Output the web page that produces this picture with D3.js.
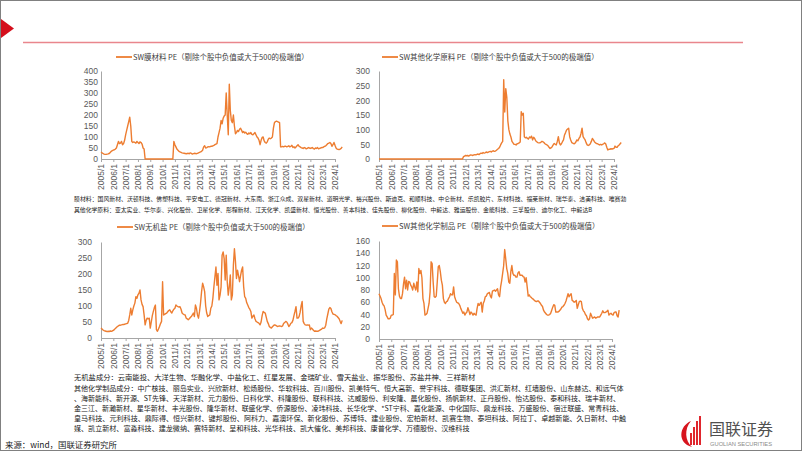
<!DOCTYPE html>
<html><head><meta charset="utf-8">
<script src="https://cdn.jsdelivr.net/npm/d3@7"></script>
<style>body{margin:0;background:#fff}svg{display:block}</style>
</head><body><svg id="c" width="802" height="451"></svg>
<script>
// ---------------- DATA ----------------
const years = d3.range(2005, 2025);
const tickLabels = years.map(y => y + "/1");
// monthly, 2005/1 .. 2024/8
const mocaiPE = [
 32,28,25,22,21,21,22,23,25,30,35,38,
 40,42,45,50,65,80,70,72,80,65,70,85,
 110,130,150,170,190,150,80,75,78,75,72,80,
 75,70,78,75,68,50,45,0,0,0,0,0,
 0,0,0,0,0,0,0,0,0,0,0,0,
 0,0,0,0,0,0,0,0,0,0,0,80,
 65,55,45,40,35,32,30,28,27,26,25,24,
 25,26,24,28,26,22,24,26,25,24,26,28,
 30,32,35,40,55,60,50,52,55,56,55,58,
 58,60,62,65,68,70,100,120,140,175,160,185,
 195,200,300,200,110,340,220,175,165,200,150,115,
 120,130,125,135,140,130,120,125,118,122,115,112,
 118,115,120,112,110,115,120,110,100,95,85,65,
 85,98,100,82,75,72,78,90,95,92,95,100,
 140,165,170,172,170,168,165,55,55,57,55,58,
 58,55,57,60,55,58,62,52,56,50,55,60,
 65,58,55,52,50,48,52,50,46,48,52,50,
 48,50,52,47,45,50,48,52,46,48,50,52,
 52,55,58,60,65,70,72,75,70,58,65,75,
 62,50,45,44,43,45,48,55
];
const otherRawPE = [
 0,0,0,0,0,0,0,0,0,0,0,0,
 0,0,0,0,0,0,0,0,0,0,0,0,
 0,0,0,0,0,0,0,0,0,0,0,0,
 0,0,0,0,0,0,0,0,0,0,0,0,
 0,0,0,0,0,0,0,0,0,0,0,0,
 0,0,0,0,0,0,0,0,0,0,0,0,
 0,0,0,0,0,0,0,0,0,0,8,10,
 12,11,12,10,12,14,13,12,14,15,14,16,
 17,15,18,20,19,22,20,21,24,22,23,25,
 26,24,27,28,26,27,30,33,36,40,48,55,
 60,270,160,240,210,130,100,85,75,60,55,50,
 50,48,52,53,55,58,161,150,156,76,72,74,
 70,68,75,72,78,65,74,70,62,59,56,55,
 55,57,60,59,56,52,50,48,45,40,36,38,
 42,48,53,50,48,60,76,55,48,52,59,65,
 82,90,99,102,105,76,65,56,54,52,53,58,
 65,62,70,75,87,105,76,70,65,55,48,46,
 48,52,60,70,65,59,55,53,52,50,48,50,
 48,50,52,55,51,40,31,33,33,35,34,35,
 36,44,40,40,45,48,52,56
];
const inorganicPE = [
 31,28,25,23,22,21,20,21,20,22,21,22,
 24,26,30,33,36,38,40,40,41,42,42,43,
 44,45,46,55,72,93,72,88,100,109,129,124,
 135,140,150,119,105,98,72,41,55,62,60,62,
 31,50,70,83,95,103,26,21,28,36,45,52,
 176,72,74,76,78,82,86,88,82,78,85,90,
 93,103,100,98,97,98,90,78,75,73,72,62,
 60,57,60,64,67,72,78,67,103,93,72,62,
 83,110,145,171,160,145,100,78,67,70,72,93,
 100,124,160,191,222,165,202,119,134,160,259,269,
 248,181,259,176,134,160,197,119,134,228,279,240,
 186,212,195,176,195,212,222,160,129,124,110,103,
 95,90,83,62,68,72,60,52,50,48,46,41,
 50,70,83,80,78,65,52,45,36,33,31,35,
 38,41,40,38,36,37,38,37,36,38,46,48,
 52,50,44,36,40,46,48,55,70,83,98,62,
 62,67,80,100,114,52,45,41,40,41,40,41,
 26,31,28,24,21,22,21,21,22,24,26,28,
 31,30,32,40,60,75,90,95,92,82,75,74,
 73,70,68,64,60,52,45,55
];
const otherProductsPE = [
 74,70,66,60,56,54,48,39,36,33,33,34,
 39,39,40,107,72,129,126,82,70,66,66,74,
 90,101,82,96,80,94,93,88,85,80,91,85,
 80,93,77,115,107,112,100,66,58,39,40,42,
 50,58,77,126,123,93,69,68,70,93,118,120,
 110,96,88,66,60,58,61,62,66,69,74,72,
 72,85,69,64,60,59,58,55,50,46,42,44,
 39,42,44,51,46,40,44,42,39,42,40,39,
 50,58,55,58,60,44,58,62,69,70,74,75,
 76,70,67,78,79,80,78,80,82,72,69,85,
 95,107,120,146,131,115,107,93,91,110,120,107,
 104,104,101,101,108,110,104,104,104,102,101,93,
 100,85,70,72,69,68,66,65,63,62,61,62,
 62,60,58,55,53,47,44,42,40,39,39,40,
 42,47,52,56,55,44,44,44,45,47,49,52,
 53,55,58,62,68,74,69,72,74,63,62,60,
 61,63,50,56,61,62,61,50,46,44,40,38,
 33,31,33,42,38,34,35,36,34,35,36,36,
 36,39,42,46,43,43,44,45,47,39,41,42,
 40,39,43,44,44,38,36,47
];
const legendTexts = [
 "SW膜材料 PE（剔除个股中负值或大于500的极端值）",
 "SW其他化学原料 PE（剔除个股中负值或大于500的极端值）",
 "SW无机盐 PE（剔除个股中负值或大于500的极端值）",
 "SW其他化学制品 PE（剔除个股中负值或大于500的极端值）"
];
const yMaxes = [400, 300, 300, 160];
const ySteps = [50, 50, 50, 20];
const notesTop = [
 "膜材料：国风新材、沃顿科技、佛塑科技、平安电工、德冠新材、大东南、浙江众成、双星新材、道明光学、裕兴股份、斯迪克、和顺科技、中仑新材、乐凯胶片、东材科技、福莱新材、瑞华泰、洁美科技、唯赛勃",
 "其他化学原料：亚太实业、华尔泰、兴化股份、卫星化学、彤程新材、江天化学、凯盛新材、恒光股份、善本科技、佳先股份、柳化股份、中毅达、雅运股份、金能科技、三孚股份、迪尔化工、中毅达B"
];
const notesBottom = [
 "无机盐成分：云南能投、大洋生物、华融化学、中盐化工、红星发展、金瑞矿业、雪天盐业、振华股份、苏盐井神、三祥新材",
 "其他化学制品成分：中广核技、丽岛实业、兴欣新材、松炀股份、华软科技、百川股份、凯美特气、恒大高新、誉宇科技、德联集团、洪汇新材、红墙股份、山东赫达、和远气体",
 "、海新能科、新开源、ST先锋、天洋新材、元力股份、日科化学、科隆股份、联科科技、达威股份、利安隆、晨化股份、扬帆新材、正丹股份、怡达股份、泰和科技、瑞丰新材、",
 "金三江、新瀚新材、星华新材、丰光股份、隆华新材、联盛化学、侨源股份、凌玮科技、长华化学、*ST宁科、嘉化能源、中化国际、鼎龙科技、万盛股份、宿迁联盛、常青科技、",
 "皇马科技、元利科技、鼎际得、恒兴新材、键邦股份、阿科力、嘉澳环保、新化股份、苏博特、建业股份、宏柏新材、凯赛生物、泰坦科技、阿拉丁、卓越新能、久日新材、中触",
 "媒、凯立新材、富淼科技、建龙微纳、赛特新材、呈和科技、光华科技、凯大催化、美邦科技、康普化学、万德股份、汉维科技"
];
const sourceText = "来源：wind，国联证券研究所";

// ---------------- LAYOUT ----------------
const svg = d3.select("#c");
const CJK = "'Noto Sans CJK SC','Noto Sans',sans-serif";
const LAT = "'Liberation Sans',Arial,sans-serif";
const ORANGE = "#ED7D31";

// scale a text's font size so that its rendered width equals w
function fitWidth(sel, w) {
  const fs = parseFloat(sel.attr("font-size"));
  const cur = sel.node().getComputedTextLength();
  if (cur > 0) sel.attr("font-size", (fs * w / cur).toFixed(3));
  return sel;
}

svg.append("rect").attr("x",0.5).attr("y",0.5).attr("width",801).attr("height",450)
  .attr("fill","#fff").attr("stroke","#808080").attr("stroke-width",1);
svg.append("path").attr("d","M1,19 L14,28.5 L1,38 Z").attr("fill","#d40f1c");
svg.append("line").attr("x1",23).attr("x2",743).attr("y1",42.5).attr("y2",42.5)
  .attr("stroke","#e9868d").attr("stroke-width",1.5);

const layouts = [
 {x0:101, x228:335, yt:71, yb:159, pad:3, legX:116, legY:57, legW:176},
 {x0:379, x228:614, yt:71, yb:159, pad:9, legX:382, legY:57, legW:200},
 {x0:101, x228:335, yt:242, yb:338, pad:9, legX:117, legY:227, legW:176},
 {x0:379, x228:612, yt:241, yb:339, pad:9, legX:382, legY:226, legW:201}
];
const series = [mocaiPE, otherRawPE, inorganicPE, otherProductsPE];

series.forEach((vals, k) => {
  const L = layouts[k];
  const g = svg.append("g");
  const x = d3.scaleLinear().domain([0, 228]).range([L.x0, L.x228]);
  const y = d3.scaleLinear().domain([0, yMaxes[k]]).range([L.yb, L.yt]);

  const ya = g.append("g").attr("transform",`translate(${L.x0},0)`)
    .call(d3.axisLeft(y).tickValues(d3.range(0, yMaxes[k]+1, ySteps[k])).tickSize(0).tickPadding(L.pad));
  ya.select(".domain").attr("stroke","#a6a6a6");
  ya.selectAll("text").attr("font-family",LAT).attr("font-size",8.5).attr("fill","#595959");

  const xa = g.append("g").attr("transform",`translate(0,${L.yb})`)
    .call(d3.axisBottom(x).tickValues(years.map((_,i)=>i*12)).tickFormat(i=>tickLabels[i/12]).tickSize(3).tickSizeOuter(0));
  xa.select(".domain").attr("stroke","#a6a6a6");
  xa.selectAll("line").attr("stroke","#a6a6a6");
  xa.selectAll("text").attr("font-family",LAT).attr("font-size",8.5).attr("fill","#595959")
    .attr("transform","rotate(-90)").attr("text-anchor","end").attr("x",-5).attr("y",0).attr("dy","0.32em");

  g.append("path").datum(vals)
    .attr("d", d3.line().x((d,i)=>x(i)).y(d=>y(d)))
    .attr("fill","none").attr("stroke",ORANGE).attr("stroke-width",1.4).attr("stroke-linejoin","round");

  g.append("line").attr("x1",L.legX).attr("x2",L.legX+16).attr("y1",L.legY).attr("y2",L.legY)
    .attr("stroke",ORANGE).attr("stroke-width",1.8);
  const t = g.append("text").attr("x",L.legX+17).attr("y",L.legY).attr("dy","0.35em")
    .attr("font-family",CJK).attr("font-size",7).attr("fill","#404040").text(legendTexts[k]);
  fitWidth(t, L.legW);
});

// notes
const topY = [199, 210];
const topW = [553, 519];
notesTop.forEach((t,i)=>{
  const s = svg.append("text").attr("x",74).attr("y",topY[i]).attr("dy","0.35em")
    .attr("font-family",CJK).attr("font-size",6).attr("fill","#1a1a1a").text(t);
  fitWidth(s, topW[i]);
});
const botY = [377, 389, 399, 409, 419, 429];
const botW = [402, 550, 547, 550, 553, 396];
notesBottom.forEach((t,i)=>{
  const s = svg.append("text").attr("x",74).attr("y",botY[i]).attr("dy","0.35em")
    .attr("font-family",CJK).attr("font-size",7).attr("fill","#1a1a1a").text(t);
  fitWidth(s, botW[i]);
});
fitWidth(svg.append("text").attr("x",5).attr("y",445).attr("dy","0.35em")
  .attr("font-family",CJK).attr("font-size",7.5).attr("fill","#1a1a1a").text(sourceText), 112);

// logo
const lg = svg.append("g");
lg.append("path").attr("d","M691,421 C679,426 677,443 692,447 C685,441 684,429 691,421 Z").attr("fill","#d7141e");
[[690,433,2,12],[693,427,2,18],[696,421,2,24],[699,416,2,29]].forEach(r=>{
  lg.append("rect").attr("x",r[0]).attr("y",r[1]).attr("width",r[2]).attr("height",r[3]).attr("fill","#e0262d");
});
fitWidth(lg.append("text").attr("x",709).attr("y",435).attr("font-family",CJK).attr("font-size",15)
  .attr("fill","#505050").text("国联证券"), 64);
fitWidth(lg.append("text").attr("x",710).attr("y",445.5).attr("font-family",LAT).attr("font-size",4.2)
  .attr("fill","#8a8a8a").text("GUOLIAN SECURITIES"), 62);
</script></body></html>
